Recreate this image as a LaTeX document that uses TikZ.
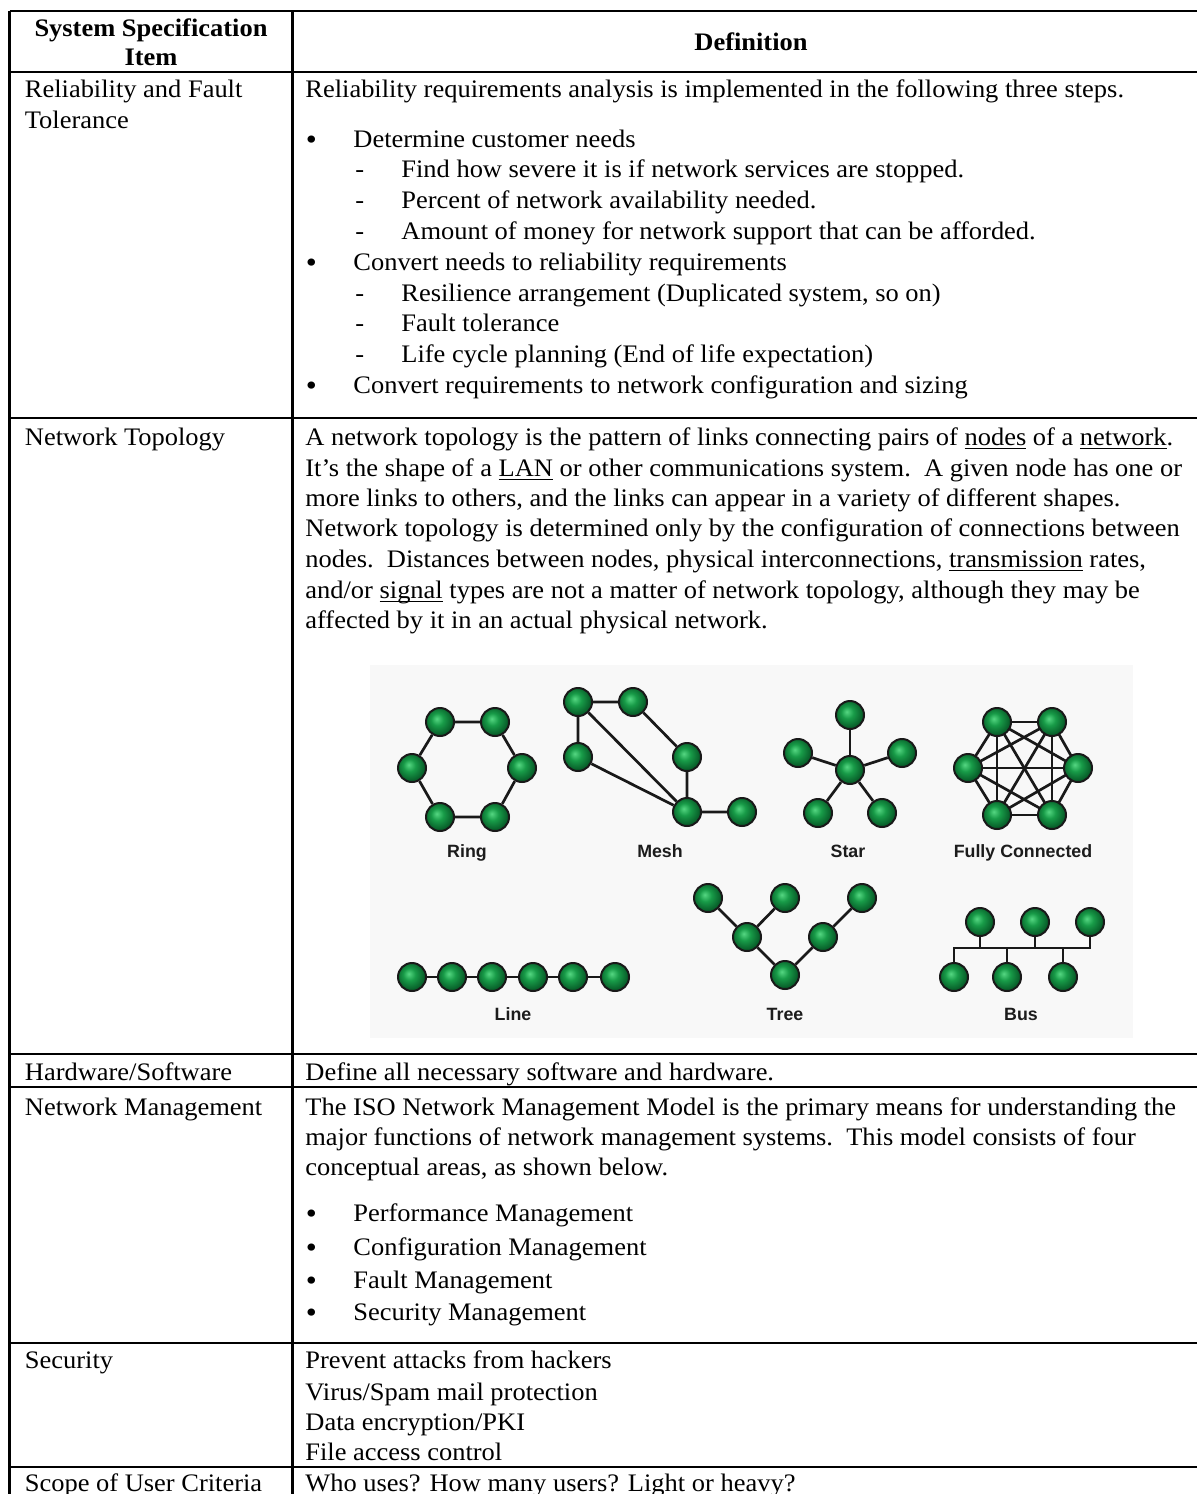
\documentclass[tikz,border=0pt]{standalone}
\usepackage{fontspec}
\setmainfont{Liberation Serif}[FakeStretch=1.05]
\newfontfamily\labfont{Liberation Sans}
% underline at a fixed depth, independent of descenders
\newsavebox\uwbox
\newcommand\uword[1]{\sbox\uwbox{#1}\rlap{\rule[-2.2pt]{\wd\uwbox}{0.9pt}}\usebox\uwbox}
\definecolor{gA}{RGB}{85,215,130}
\definecolor{gB}{RGB}{24,155,72}
\definecolor{gC}{RGB}{8,95,42}
\definecolor{picbg}{RGB}{248,248,248}
\definecolor{labgray}{RGB}{28,28,28}
\pgfdeclareradialshading{greenball}{\pgfpoint{-6bp}{6bp}}{color(0bp)=(gA); color(11bp)=(gB); color(25bp)=(gC); color(50bp)=(gC)}
\pgfdeclarelayer{bg}
\pgfdeclarelayer{edges}
\pgfsetlayers{bg,edges,main}
\newcommand\bodyfont{\fontsize{12.6pt}{15pt}\selectfont}
\newcommand\dotfont{\fontsize{15pt}{15pt}\selectfont}
\newcommand\labelfont{\labfont\bfseries\fontsize{8.9pt}{10pt}\selectfont}
\tikzset{
  txt/.style={anchor=base west, inner sep=0pt, font=\bodyfont},
  hdr/.style={anchor=base, inner sep=0pt, font=\bodyfont\bfseries},
  bul/.style={anchor=base, inner sep=0pt, font=\dotfont},
  rule/.style={line width=1.25pt, black},
  lab/.style={anchor=base, inner sep=0pt, font=\labelfont, text=labgray},
  ball/.style={circle, inner sep=0pt, minimum size=14pt, draw=black!90, line width=1pt, shading=greenball},
  link/.style={line width=1.35pt, black!90},
}
\begin{document}
\begin{tikzpicture}[x=0.5pt,y=-0.5pt]
\useasboundingbox (0,0) rectangle (1197,1494);
\clip (0,0) rectangle (1197,1494);
\begin{pgfonlayer}{bg}
\fill[white] (0,0) rectangle (1197,1494);
\fill[picbg] (370,665) rectangle (1133,1038);
\end{pgfonlayer}

% table rules
\draw[rule] (9.5,11) -- (1230,11);
\draw[rule] (9.5,72) -- (1230,72);
\draw[rule] (9.5,418) -- (1230,418);
\draw[rule] (9.5,1054) -- (1230,1054);
\draw[rule] (9.5,1087) -- (1230,1087);
\draw[rule] (9.5,1343) -- (1230,1343);
\draw[rule] (9.5,1467) -- (1230,1467);
\draw[rule] (9.5,11) -- (9.5,1530);
\draw[rule] (292.5,11) -- (292.5,1530);

% header
\node[hdr] (hItemA) at (151,36) {System Specification};
\node[hdr] (hItemB) at (151,65) {Item};
\node[hdr] (hDef) at (751,50) {Definition};

% reliability
\node[txt] (cRelA) at (24.5,97) {Reliability and Fault};
\node[txt] (cRelB) at (24.5,128) {Tolerance};
\node[txt] (dRel) at (305,97) {Reliability requirements analysis is implemented in the following three steps.};
\node[bul] (b1) at (311.5,149) {•};
\node[txt] (r1) at (353,147) {Determine customer needs};
\node[txt] (s1d) at (355,177.8) {-};
\node[txt] (s1) at (401,177.8) {Find how severe it is if network services are stopped.};
\node[txt] (s2d) at (355,208.6) {-};
\node[txt] (s2) at (401,208.6) {Percent of network availability needed.};
\node[txt] (s3d) at (355,239.4) {-};
\node[txt] (s3) at (401,239.4) {Amount of money for network support that can be afforded.};
\node[bul] (b2) at (311.5,272.2) {•};
\node[txt] (r2) at (353,270.2) {Convert needs to reliability requirements};
\node[txt] (s4d) at (355,301) {-};
\node[txt] (s4) at (401,301) {Resilience arrangement (Duplicated system, so on)};
\node[txt] (s5d) at (355,331.8) {-};
\node[txt] (s5) at (401,331.8) {Fault tolerance};
\node[txt] (s6d) at (355,362.6) {-};
\node[txt] (s6) at (401,362.6) {Life cycle planning (End of life expectation)};
\node[bul] (b3) at (311.5,395.4) {•};
\node[txt] (r3) at (353,393.4) {Convert requirements to network configuration and sizing};

% network topology
\node[txt] (cTop) at (24.5,445) {Network Topology};
\node[txt] (t1) at (305,445) {A network topology is the pattern of links connecting pairs of \uword{nodes} of a \uword{network}.};
\node[txt] (t2) at (305,476) {It’s the shape of a \uword{LAN} or other communications system.\ \ A given node has one or};
\node[txt] (t3) at (305,506) {more links to others, and the links can appear in a variety of different shapes.};
\node[txt] (t4) at (305,536) {Network topology is determined only by the configuration of connections between};
\node[txt] (t5) at (305,567) {nodes.\ \ Distances between nodes, physical interconnections, \uword{transmission} rates,};
\node[txt] (t6) at (305,598) {and/or \uword{signal} types are not a matter of network topology, although they may be};
\node[txt] (t7) at (305,628) {affected by it in an actual physical network.};

% ring
\node[ball] (rg1) at (440,722) {};
\node[ball] (rg2) at (495,722) {};
\node[ball] (rg3) at (522,768) {};
\node[ball] (rg4) at (495,817) {};
\node[ball] (rg5) at (440,817) {};
\node[ball] (rg6) at (412,768) {};
\node[lab] (lRing) at (467,857) {Ring};
% mesh
\node[ball] (m1) at (578,702) {};
\node[ball] (m2) at (633,702) {};
\node[ball] (m3) at (578,757) {};
\node[ball] (m4) at (687,757) {};
\node[ball] (m5) at (687,812) {};
\node[ball] (m6) at (742,812) {};
\node[lab] (lMesh) at (660,857) {Mesh};
% star
\node[ball] (sc) at (850,770) {};
\node[ball] (st1) at (850,715) {};
\node[ball] (st2) at (798,753) {};
\node[ball] (st3) at (902,753) {};
\node[ball] (st4) at (818,813) {};
\node[ball] (st5) at (882,813) {};
\node[lab] (lStar) at (848,857) {Star};
% fully connected
\node[ball] (f1) at (997,722) {};
\node[ball] (f2) at (1052,722) {};
\node[ball] (f3) at (1078,768) {};
\node[ball] (f4) at (1052,815) {};
\node[ball] (f5) at (997,815) {};
\node[ball] (f6) at (968,768) {};
\node[lab] (lFull) at (1023,857) {Fully Connected};
% line
\node[ball] (ln1) at (412,977) {};
\node[ball] (ln2) at (452,977) {};
\node[ball] (ln3) at (492,977) {};
\node[ball] (ln4) at (533,977) {};
\node[ball] (ln5) at (573,977) {};
\node[ball] (ln6) at (615,977) {};
\node[lab] (lLine) at (513,1020) {Line};
% tree
\node[ball] (tr1) at (708,898) {};
\node[ball] (tr2) at (785,898) {};
\node[ball] (tr3) at (862,898) {};
\node[ball] (tr4) at (747,937) {};
\node[ball] (tr5) at (823,937) {};
\node[ball] (tr6) at (785,975) {};
\node[lab] (lTree) at (785,1020) {Tree};
% bus
\node[ball] (bt1) at (980,922) {};
\node[ball] (bt2) at (1035,922) {};
\node[ball] (bt3) at (1090,922) {};
\node[ball] (bb1) at (954,977) {};
\node[ball] (bb2) at (1007,977) {};
\node[ball] (bb3) at (1063,977) {};
\coordinate (busY) at (0,948);
\node[lab] (lBus) at (1021,1020) {Bus};

\begin{pgfonlayer}{edges}
\draw[link] (rg1) -- (rg2) -- (rg3) -- (rg4) -- (rg5) -- (rg6) -- (rg1);
\draw[link] (m1) -- (m2) (m1) -- (m3) (m1) -- (m5) (m3) -- (m5) (m2) -- (m4) (m4) -- (m5) (m5) -- (m6);
\foreach \k in {st1,st2,st3,st4,st5} \draw[link] (sc) -- (\k);
\foreach \a/\b in {f1/f2,f1/f3,f1/f4,f1/f5,f1/f6,f2/f3,f2/f4,f2/f5,f2/f6,f3/f4,f3/f5,f3/f6,f4/f5,f4/f6,f5/f6}
  \draw[link] (\a.center) -- (\b.center);
\draw[link] (ln1) -- (ln2) -- (ln3) -- (ln4) -- (ln5) -- (ln6);
\draw[link] (tr1) -- (tr4) -- (tr6) -- (tr5) -- (tr3) (tr2) -- (tr4);
\draw[link] (bb1.center) -- (bb1.center |- busY) -- (bt3.center |- busY) -- (bt3.center);
\draw[link] (bt1.center) -- (bt1.center |- busY);
\draw[link] (bt2.center) -- (bt2.center |- busY);
\draw[link] (bb2.center) -- (bb2.center |- busY);
\draw[link] (bb3.center) -- (bb3.center |- busY);
\end{pgfonlayer}

% hardware / software
\node[txt] (cHw) at (24.5,1080) {Hardware/Software};
\node[txt] (dHw) at (305,1080) {Define all necessary software and hardware.};

% network management
\node[txt] (cNm) at (24.5,1115) {Network Management};
\node[txt] (n1) at (305,1115) {The ISO Network Management Model is the primary means for understanding the};
\node[txt] (n2) at (305,1145) {major functions of network management systems.\ \ This model consists of four};
\node[txt] (n3) at (305,1175) {conceptual areas, as shown below.};
\node[bul] (b4) at (311.5,1223) {•};
\node[txt] (nb1) at (353,1221) {Performance Management};
\node[bul] (b5) at (311.5,1257) {•};
\node[txt] (nb2) at (353,1255) {Configuration Management};
\node[bul] (b6) at (311.5,1290) {•};
\node[txt] (nb3) at (353,1288) {Fault Management};
\node[bul] (b7) at (311.5,1322) {•};
\node[txt] (nb4) at (353,1320) {Security Management};

% security
\node[txt] (cSec) at (24.5,1368) {Security};
\node[txt] (e1) at (305,1368) {Prevent attacks from hackers};
\node[txt] (e2) at (305,1400) {Virus/Spam mail protection};
\node[txt] (e3) at (305,1430) {Data encryption/PKI};
\node[txt] (e4) at (305,1460) {File access control};

% scope of user criteria
\node[txt] (cScope) at (24.5,1491) {Scope of User Criteria};
\node[txt] (dScope) at (305,1491) {Who uses? How many users? Light or heavy?};
\end{tikzpicture}
\end{document}
